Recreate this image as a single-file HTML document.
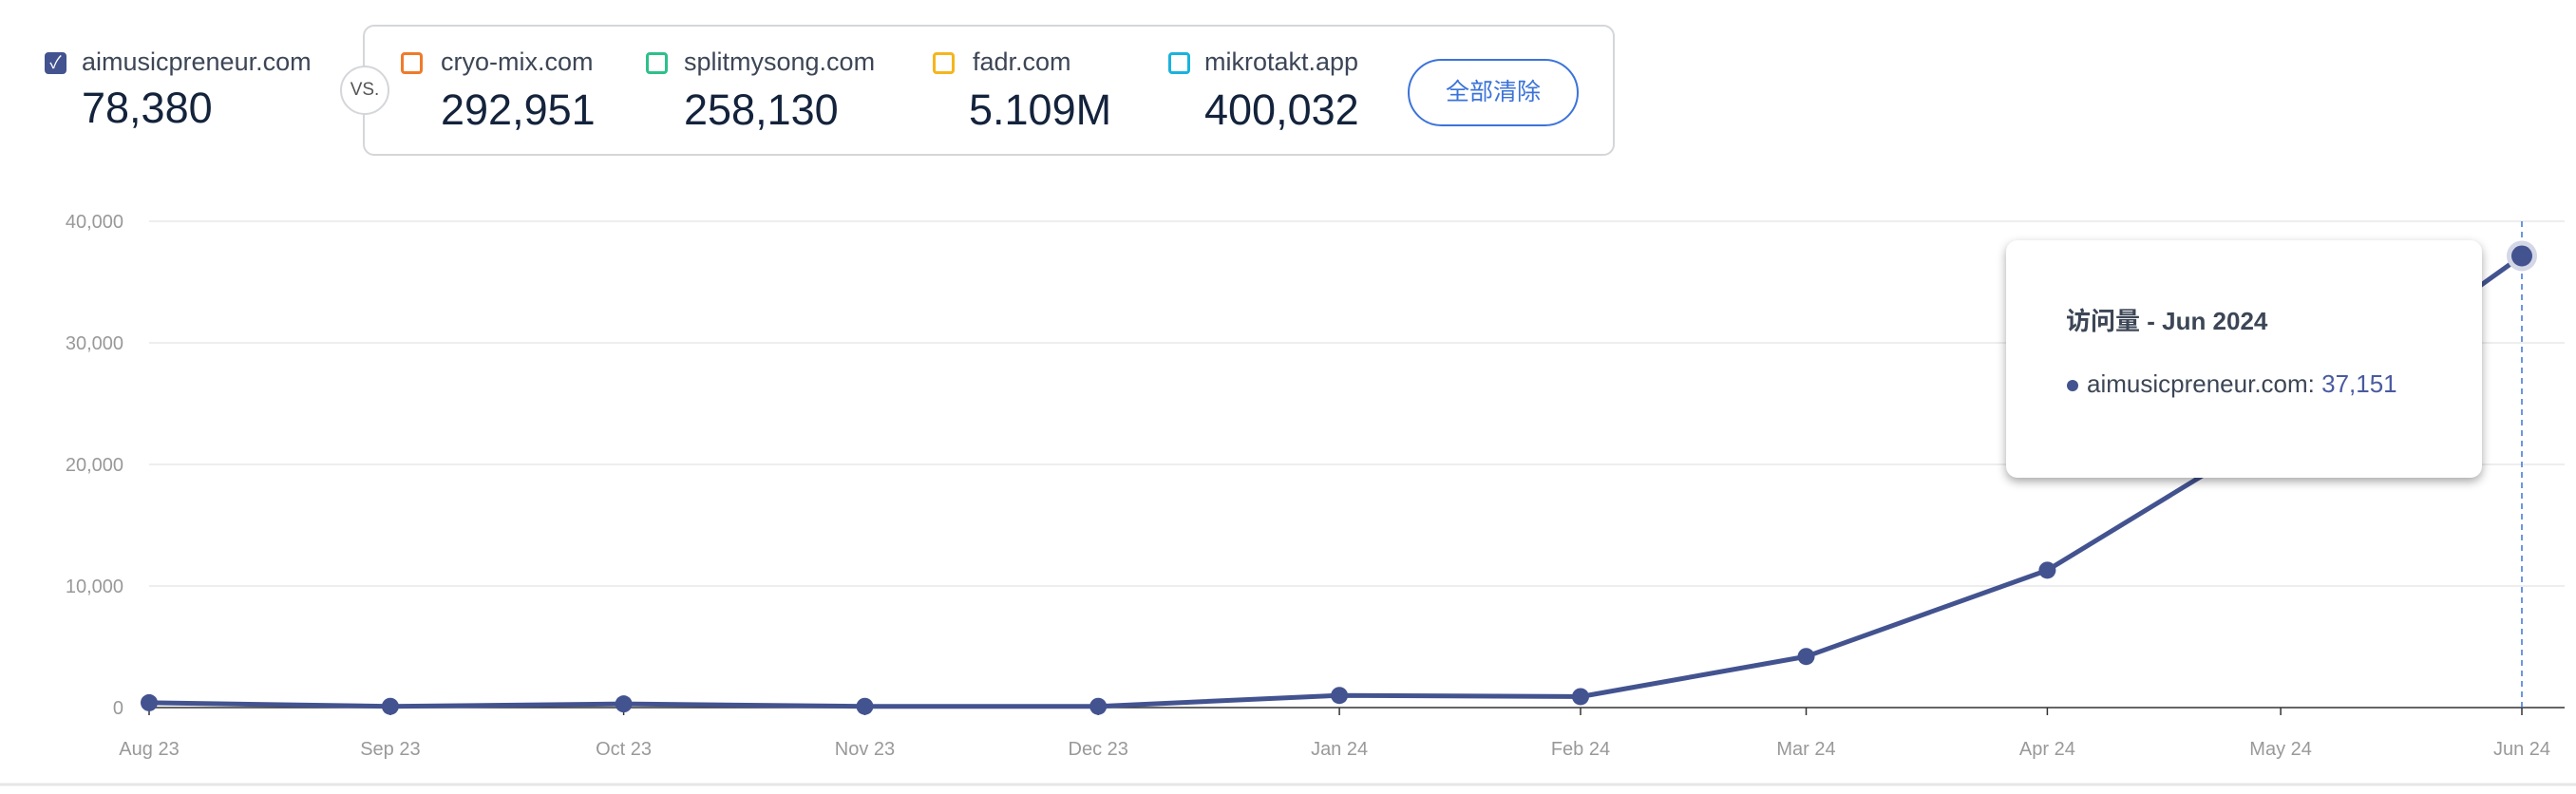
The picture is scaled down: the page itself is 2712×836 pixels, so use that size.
<!DOCTYPE html>
<html><head><meta charset="utf-8">
<style>
html,body{margin:0;padding:0;background:#fff;width:2712px;height:836px;overflow:hidden;font-family:"Liberation Sans","Noto Sans CJK SC",sans-serif;}
.abs{position:absolute;}
.cb{position:absolute;width:20px;height:20px;border:3px solid;border-radius:4px;box-sizing:border-box;}
.site{position:absolute;font-size:27px;color:#3c4656;}
.num{position:absolute;font-size:45px;color:#14233c;}
</style></head><body>
<div>
  <div class="cb" style="left:47px;top:55px;width:23px;height:23px;background:#435390;border-color:#435390;color:#fff;font-size:18px;line-height:17px;text-align:center;">✓</div>
  <div class="site" style="left:86px;top:50px;">aimusicpreneur.com</div>
  <div class="num" style="left:86px;top:88px;">78,380</div>
</div>
<div class="abs" style="left:382px;top:26px;width:1318px;height:138px;border:2px solid #d4d6da;border-radius:12px;box-sizing:border-box;"></div>
<div class="abs" style="left:358px;top:69px;width:52px;height:52px;border:2px solid #d4d6da;border-radius:50%;background:#fff;box-sizing:border-box;text-align:center;line-height:48px;font-size:19px;color:#555;">VS.</div>

<div class="cb" style="left:422px;top:55px;width:23px;height:23px;border-color:#f07a2a;"></div>
<div class="site" style="left:464px;top:50px;">cryo-mix.com</div>
<div class="num" style="left:464px;top:90px;">292,951</div>

<div class="cb" style="left:680px;top:55px;width:23px;height:23px;border-color:#2dc08b;"></div>
<div class="site" style="left:720px;top:50px;">splitmysong.com</div>
<div class="num" style="left:720px;top:90px;">258,130</div>

<div class="cb" style="left:982px;top:55px;width:23px;height:23px;border-color:#f5b51d;"></div>
<div class="site" style="left:1024px;top:50px;">fadr.com</div>
<div class="num" style="left:1020px;top:90px;">5.109M</div>

<div class="cb" style="left:1230px;top:55px;width:23px;height:23px;border-color:#1ab2dc;"></div>
<div class="site" style="left:1268px;top:50px;">mikrotakt.app</div>
<div class="num" style="left:1268px;top:90px;">400,032</div>

<div class="abs" style="left:1482px;top:62px;width:180px;height:71px;border:2px solid #3b73d9;border-radius:36px;box-sizing:border-box;text-align:center;line-height:67px;font-size:25px;color:#3b73d9;">全部清除</div>

<svg id="chart" class="abs" style="left:0;top:0" width="2712" height="836"></svg>

<div class="abs" style="left:2112px;top:253px;width:501px;height:250px;background:#fff;border-radius:12px;box-shadow:0 4px 10px rgba(0,0,0,0.35);">
  <div class="abs" style="left:63px;top:65px;font-size:26px;font-weight:bold;color:#3c4656;">访问量 - Jun 2024</div>
  <div class="abs" style="left:64px;top:147px;width:12px;height:12px;border-radius:50%;background:#435390;"></div>
  <div class="abs" style="left:85px;top:136px;font-size:26px;color:#3c4656;">aimusicpreneur.com: <span style="color:#4a5aa0">37,151</span></div>
</div>

<script>
const months = ["2023-08-01","2023-09-01","2023-10-01","2023-11-01","2023-12-01","2024-01-01","2024-02-01","2024-03-01","2024-04-01","2024-05-01","2024-06-01"];
const monthLabels = ["Aug 23","Sep 23","Oct 23","Nov 23","Dec 23","Jan 24","Feb 24","Mar 24","Apr 24","May 24","Jun 24"];
const visits = [400,100,300,100,100,1000,900,4200,11300,23000,37151];
const yTicks = [0,10000,20000,30000,40000];
const yTickLabels = ["0","10,000","20,000","30,000","40,000"];

const NS="http://www.w3.org/2000/svg";
const svg=document.getElementById('chart');
const t0=Date.parse(months[0]), t1=Date.parse(months[months.length-1]);
const X0=157,X1=2655,Y0=745,Y1=233,YMAX=40000;
function xs(d){return X0+(Date.parse(d)-t0)/(t1-t0)*(X1-X0);}
function ys(v){return Y0-v/YMAX*(Y0-Y1);}
function mk(tag,attrs){const e=document.createElementNS(NS,tag);for(const k in attrs)e.setAttribute(k,attrs[k]);svg.appendChild(e);return e;}

yTicks.forEach((v,i)=>{
  if(v>0){const g=mk('line',{x1:X0,x2:2700,y1:ys(v),y2:ys(v),stroke:'#e8e8e8','stroke-width':1.5});
  
  }
  const t=mk('text',{x:130,y:ys(v)+7,'text-anchor':'end','font-size':20,fill:'#999','font-family':'Liberation Sans'});
  t.textContent=yTickLabels[i];
  
  
});
const ax=mk('line',{x1:X0,x2:2700,y1:Y0,y2:Y0,stroke:'#333','stroke-width':1.5});


months.forEach((m,i)=>{
  const x=xs(m);
  const tk=mk('line',{x1:x,x2:x,y1:Y0,y2:Y0+8,stroke:'#333','stroke-width':1.5});
  
  
  const t=mk('text',{x:x,y:795,'text-anchor':'middle','font-size':20,fill:'#999','font-family':'Liberation Sans'});
  t.textContent=monthLabels[i];
  
  
});
const last=months.length-1;
const cross=mk('line',{x1:xs(months[last]),x2:xs(months[last]),y1:Y1,y2:Y0,stroke:'#3b73d9','stroke-width':1.5,'stroke-dasharray':'6,5'});


const pts=months.map((m,i)=>xs(m)+','+ys(visits[i])).join(' ');
const line=mk('polyline',{points:pts,fill:'none',stroke:'#435390','stroke-width':5,'stroke-linejoin':'round'});


months.forEach((m,i)=>{
  if(i===last){const h=mk('circle',{cx:xs(m),cy:ys(visits[i]),r:16,fill:'#d3d7e6'});
  
  }
  const c=mk('circle',{cx:xs(m),cy:ys(visits[i]),r:i===last?11:9,fill:'#435390'});
  
  
});
const bl=mk('line',{x1:0,x2:2712,y1:826,y2:826,stroke:'#e6e6e6','stroke-width':3});


</script>
</body></html>
